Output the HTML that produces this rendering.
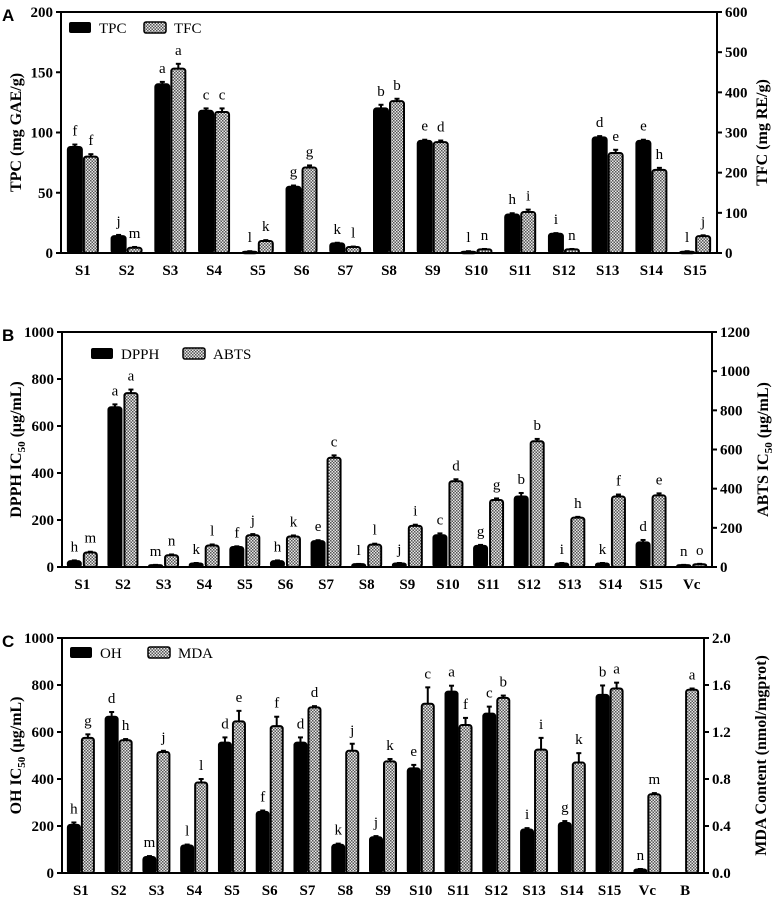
<!DOCTYPE html>
<html><head><meta charset="utf-8"><style>
body{margin:0;background:#fff;}
svg{display:block;font-family:"Liberation Serif",serif;}
.tk{font-weight:bold;font-size:15px;}
.let{font-size:15px;}
</style></head><body>
<svg id="c" width="777" height="898" xmlns="http://www.w3.org/2000/svg">
<defs>
<pattern id="chk" width="3" height="3" patternUnits="userSpaceOnUse">
<rect width="3" height="3" fill="#e8e8e8"/><rect width="1.5" height="1.5" fill="#555"/><rect x="1.5" y="1.5" width="1.5" height="1.5" fill="#555"/>
</pattern>
</defs>
</svg>
<script>
// Panel A
const catsA=["S1","S2","S3","S4","S5","S6","S7","S8","S9","S10","S11","S12","S13","S14","S15"];
const tpc=[88,14,140,118,1,55,8,120,93,1,32,16,96,93,1];
const tpcErr=[2,1,2,2,0.5,1,0.5,3,1,0.5,1,0.5,1,1,0.5];
const tfc=[240,13,459,351,30,213,15,378,276,9,102,9,249,207,42];
const tfcErr=[6,2,12,9,2,5,1,6,4,1,6,1,8,5,2];
const tpcLet=["f","j","a","c","l","g","k","b","e","l","h","i","d","e","l"];
const tfcLet=["f","m","a","c","k","g","l","b","d","n","i","n","e","h","j"];
const ticksA_L=[0,50,100,150,200];
const ticksA_R=[0,100,200,300,400,500,600];
// Panel B
const catsB=["S1","S2","S3","S4","S5","S6","S7","S8","S9","S10","S11","S12","S13","S14","S15","Vc"];
const dpph=[25,680,8,15,85,25,110,12,15,135,90,300,15,15,105,8];
const dpphErr=[3,12,1,2,3,3,4,1,2,8,4,15,2,2,10,1];
const abts=[74,888,60,110,162,156,558,114,210,438,342,642,252,360,366,14];
const abtsErr=[4,18,4,5,6,5,12,5,6,10,8,12,4,10,10,2];
const dpphLet=["h","a","m","k","f","h","e","l","j","c","g","b","i","k","d","n"];
const abtsLet=["m","a","n","l","j","k","c","l","i","d","g","b","h","f","e","o"];
const ticksB_L=[0,200,400,600,800,1000];
const ticksB_R=[0,200,400,600,800,1000,1200];
// Panel C
const catsC=["S1","S2","S3","S4","S5","S6","S7","S8","S9","S10","S11","S12","S13","S14","S15","Vc","B"];
const oh=[205,665,68,117,555,260,555,120,152,445,772,678,185,213,758,15,null];
const ohErr=[10,20,4,4,22,6,22,5,5,15,25,30,6,8,40,2,0];
const mda=[1.15,1.13,1.03,0.77,1.29,1.25,1.41,1.04,0.95,1.44,1.26,1.49,1.05,0.94,1.57,0.67,1.56];
const mdaErr=[0.03,0.01,0.01,0.03,0.09,0.08,0.01,0.06,0.02,0.14,0.06,0.02,0.1,0.08,0.05,0.01,0.01];
const ohLet=["h","d","m","l","d","f","d","k","j","e","a","c","i","g","b","n",""];
const mdaLet=["g","h","j","l","e","f","d","j","k","c","f","b","i","k","a","m","a"];
const ticksC_L=[0,200,400,600,800,1000];
const ticksC_R=["0.0","0.4","0.8","1.2","1.6","2.0"];

const svg=document.getElementById('c');
const NS="http://www.w3.org/2000/svg";
function mk(tag,attrs,parent,text){const e=document.createElementNS(NS,tag);for(const k in attrs)e.setAttribute(k,attrs[k]);if(text!==undefined)e.textContent=text;(parent||svg).appendChild(e);return e;}

function panel(o){
  const g=mk('g',{});
  
  
  const n=o.cats.length, cw=(o.x1-o.x0)/n;
  const yL=v=>o.yb-(v/o.maxL)*(o.yb-o.yt);
  const yR=v=>o.yb-(v/o.maxR)*(o.yb-o.yt);
  const bw=o.bw;
  function bar(cx,v,err,fill,yf,lt,nm){
    if(v===null)return;
    const y=yf(v), h=o.yb-y;
    const ye=yf(v+err);
    const l=mk('line',{x1:cx,x2:cx,y1:y,y2:ye,stroke:'#000','stroke-width':2},g);
    
    
    const c=mk('line',{x1:cx-2.5,x2:cx+2.5,y1:ye,y2:ye,stroke:'#000','stroke-width':2},g);
    
    
    const r=mk('rect',{x:cx-bw/2,y:y,width:bw,height:Math.max(h,1.5),rx:2.5,fill:fill,stroke:'#000','stroke-width':2},g);
    
    
    if(lt){const t=mk('text',{x:cx,y:ye-9,'text-anchor':'middle',class:'let'},g,lt);
      
      }
  }
  for(let i=0;i<n;i++){
    const cx=o.x0+cw*(i+0.5);
    bar(cx-o.off,o.sL[i],o.eL[i],'#000',yL,o.lL[i],'bar-'+o.kL+'-'+o.cats[i]);
    bar(cx+o.off,o.sR[i],o.eR[i],'url(#chk)',o.rightScale?yR:yL,o.lR[i],'bar-'+o.kR+'-'+o.cats[i]);
    const t=mk('text',{x:cx,y:o.yb+22,'text-anchor':'middle',class:'tk'},g,o.cats[i]);
    
    
  }
  const f=mk('path',{d:`M${o.x0},${o.yb}V${o.yt}H${o.x1}V${o.yb}H${o.x0}`,fill:'none',stroke:'#000','stroke-width':2},g);
  
  
  o.tL.forEach(v=>{const y=yL(v);
    mk('line',{x1:o.x0-5,x2:o.x0,y1:y,y2:y,stroke:'#000','stroke-width':2},g);
    const t=mk('text',{x:o.x0-8,y:y+5,'text-anchor':'end',class:'tk'},g,v);
    
    });
  o.tR.forEach((v,i)=>{const y=o.yb-i/(o.tR.length-1)*(o.yb-o.yt);
    mk('line',{x1:o.x1,x2:o.x1+5,y1:y,y2:y,stroke:'#000','stroke-width':2},g);
    const t=mk('text',{x:o.x1+8,y:y+5,'text-anchor':'start',class:'tk'},g,v);
    
    });
  const lg=mk('g',{},g);
  
  
  mk('rect',{x:o.lx,y:o.ly-6,width:22,height:11,rx:2,fill:'#000'},lg);
  mk('text',{x:o.lx+30,y:o.ly+5,'font-size':'15px'},lg,o.kL);
  mk('rect',{x:o.lx2,y:o.ly-6,width:22,height:11,rx:2,fill:'url(#chk)',stroke:'#000','stroke-width':1.5},lg);
  mk('text',{x:o.lx2+30,y:o.ly+5,'font-size':'15px'},lg,o.kR);
  const p=mk('text',{x:2,y:o.yt+9,'font-family':'Liberation Sans, sans-serif','font-weight':'bold','font-size':'17px'},g,o.letter);
  
  
  const yc=(o.yt+o.yb)/2;
  const al=mk('text',{transform:`translate(21,${yc}) rotate(-90)`,'text-anchor':'middle','font-weight':'bold','font-size':'16px'},g);
  al.innerHTML=o.titleL;
  
  
  const ar=mk('text',{transform:`translate(${o.rtx},${yc}) rotate(-90)`,'text-anchor':'middle','font-weight':'bold','font-size':'16px'},g);
  ar.innerHTML=o.titleR;
  
  
}
panel({name:'panel-a',letter:'A',cats:catsA,x0:61,x1:717,yt:12,yb:253,maxL:200,maxR:600,rightScale:true,
 sL:tpc,eL:tpcErr,sR:tfc,eR:tfcErr,lL:tpcLet,lR:tfcLet,kL:'TPC',kR:'TFC',tL:ticksA_L,tR:ticksA_R,bw:14,off:8,
 lx:69,lx2:144,ly:28,titleL:'TPC  (mg GAE/g)',titleR:'TFC (mg RE/g)',rtx:767});
panel({name:'panel-b',letter:'B',cats:catsB,x0:62,x1:712,yt:332,yb:567,maxL:1000,maxR:1200,rightScale:true,
 sL:dpph,eL:dpphErr,sR:abts,eR:abtsErr,lL:dpphLet,lR:abtsLet,kL:'DPPH',kR:'ABTS',tL:ticksB_L,tR:ticksB_R,bw:13,off:8,
 lx:91,lx2:183,ly:354,titleL:'DPPH IC<tspan font-size="11" dy="4">50</tspan><tspan dy="-4"> (μg/mL)</tspan>',titleR:'ABTS IC<tspan font-size="11" dy="4">50</tspan><tspan dy="-4"> (μg/mL)</tspan>',rtx:768});
panel({name:'panel-c',letter:'C',cats:catsC,x0:62,x1:704,yt:638,yb:873,maxL:1000,maxR:2,rightScale:true,
 sL:oh,eL:ohErr,sR:mda,eR:mdaErr,lL:ohLet,lR:mdaLet,kL:'OH',kR:'MDA',tL:ticksC_L,tR:ticksC_R,bw:12,off:7,
 lx:70,lx2:148,ly:653,titleL:'OH IC<tspan font-size="11" dy="4">50</tspan><tspan dy="-4"> (μg/mL)</tspan>',titleR:'MDA Content (nmol/mgprot)',rtx:766});
</script>
</body></html>
